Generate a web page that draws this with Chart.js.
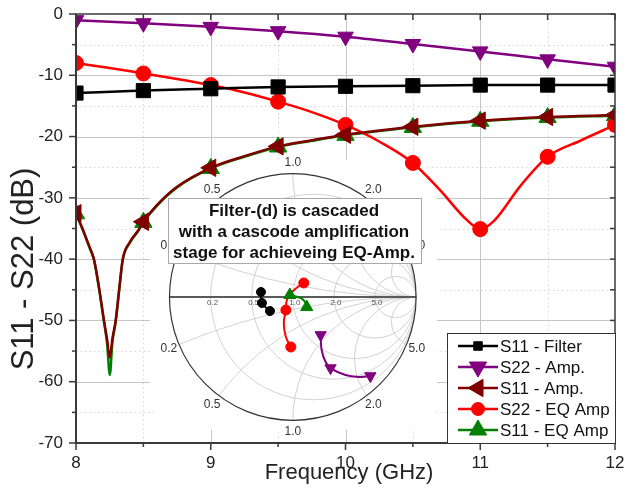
<!DOCTYPE html>
<html><head><meta charset="utf-8">
<script src="https://cdn.jsdelivr.net/npm/chart.js@4.4.0/dist/chart.umd.min.js"></script>
<style>html,body{margin:0;padding:0;background:#fff;}#wrap{width:626px;height:496px;position:relative;}</style>
</head><body><div id="wrap"><canvas id="c" width="626" height="496"></canvas></div>
<script>
// ---------------- data ----------------
const seriesNames = ['S11 - Filter', 'S22 - Amp.', 'S11 - Amp.', 'S22 - EQ Amp', 'S11 - EQ Amp'];
const markerFreq = [8, 8.5, 9, 9.5, 10, 10.5, 11, 11.5, 12];
const s11FilterDb = [-12.9, -12.5, -12.2, -11.9, -11.8, -11.7, -11.6, -11.6, -11.6];
const s22AmpDb = [-1.0, -1.5, -2.1, -2.8, -3.7, -4.9, -6.1, -7.4, -8.6];
const s11AmpFreq = [8, 8.05, 8.1, 8.133, 8.17, 8.207, 8.23, 8.251, 8.27, 8.295, 8.32, 8.347, 8.4, 8.465, 8.5, 8.6, 8.75, 9, 9.25, 9.5, 9.75, 10, 10.5, 11, 11.5, 12];
const s11AmpDb = [-32.5, -35.1, -38.0, -40.0, -44.5, -49.9, -53.0, -56.1, -53.0, -49.9, -45.0, -40.0, -37.2, -35.2, -33.9, -31.2, -28.2, -25.1, -23.2, -21.6, -20.6, -19.7, -18.4, -17.4, -16.8, -16.5];
const s11EqFreq = [8, 8.05, 8.1, 8.133, 8.17, 8.207, 8.23, 8.251, 8.27, 8.295, 8.32, 8.347, 8.4, 8.465, 8.5, 8.6, 8.75, 9, 9.25, 9.5, 9.75, 10, 10.5, 11, 11.5, 12];
const s11EqDb = [-32.6, -35.2, -38.1, -40.1, -44.7, -50.2, -53.6, -58.9, -53.6, -50.2, -45.2, -40.1, -37.3, -35.3, -34.0, -31.3, -28.3, -25.2, -23.3, -21.7, -20.7, -19.8, -18.5, -17.5, -16.9, -16.6];
const s22EqFreq = [8, 8.25, 8.5, 8.75, 9, 9.25, 9.5, 9.75, 10, 10.25, 10.5, 10.7, 10.9, 11, 11.1, 11.3, 11.5, 11.75, 12];
const s22EqDb = [-8.0, -8.8, -9.7, -10.6, -11.6, -12.8, -14.3, -16.0, -18.1, -20.8, -24.3, -28.7, -33.6, -35.1, -33.8, -28.0, -23.3, -20.6, -18.1];
const xTickLabels = ['8', '9', '10', '11', '12'];
const yTickLabels = ['0', '-10', '-20', '-30', '-40', '-50', '-60', '-70'];

// Smith chart inset (reflection coefficient, real / imaginary)
const smithFilterRe = [-0.258, -0.250, -0.185];
const smithFilterIm = [0.040, -0.048, -0.113];
const smithFilterMark = [1, 1, 1];
const smithS22AmpRe = [0.226, 0.234, 0.266, 0.306, 0.427, 0.532, 0.629];
const smithS22AmpIm = [-0.306, -0.427, -0.524, -0.573, -0.629, -0.645, -0.637];
const smithS22AmpMark = [1, 0, 0, 1, 0, 0, 1];
const smithS22EqRe = [0.129, 0.089, -0.008, -0.048, -0.056, -0.073, -0.056, -0.016];
const smithS22EqIm = [0.121, 0.113, 0.040, -0.024, -0.105, -0.210, -0.323, -0.403];
const smithS22EqMark = [0, 1, 0, 0, 1, 0, 0, 1];
const smithS11EqRe = [-0.024, 0.065, 0.100, 0.113];
const smithS11EqIm = [0.016, -0.008, -0.040, -0.081];
const smithS11EqMark = [1, 0, 0, 1];
const smithR = [0.2, 0.5, 1, 2, 5];
const smithX = [0.2, 0.5, 1, 2, 5];
const smithLabels = ['0.2', '0.5', '1.0', '2.0', '5.0'];
const noteLines = ['Filter-(d) is cascaded', 'with a cascode amplification', 'stage for achieveing EQ-Amp.'];

// ---------------- layout constants ----------------
const FONT = "'Liberation Sans', Arial, Helvetica, sans-serif";
const AREA = { l: 76, r: 618, t: 14, b: 443 };
const SM = { cx: 294, cy: 297, R: 124 };

const COLORS = ['#000000', '#800080', '#800000', '#ff0000', '#008000'];
const STYLES = [
  { ps: 'rect', rot: 0, r: 10, lr: 6 },
  { ps: 'triangle', rot: 180, r: 9, lr: 10 },
  { ps: 'triangle', rot: -90, r: 10, lr: 10 },
  { ps: 'circle', rot: 0, r: 7.5, lr: 6.5 },
  { ps: 'triangle', rot: 0, r: 10, lr: 10 }
];

function pts(xs, ys) { return xs.map((x, i) => ({ x: x, y: ys[i] })); }
const isMark = c => { const v = c.raw ? c.raw.x : NaN; return Math.abs(v * 2 - Math.round(v * 2)) < 1e-6; };

function mainSet(i, xs, ys) {
  const st = STYLES[i];
  return {
    label: seriesNames[i], data: pts(xs, ys),
    borderColor: COLORS[i], backgroundColor: COLORS[i], borderWidth: 2.5,
    pointStyle: st.ps, rotation: st.rot,
    pointRadius: c => isMark(c) ? st.r : 0,
    pointBackgroundColor: COLORS[i], pointBorderColor: COLORS[i], pointBorderWidth: 1,
    cubicInterpolationMode: 'monotone', tension: 0.4, xAxisID: 'x', yAxisID: 'y'
  };
}
function smithSet(i, re, im, mark, r, ps) {
  const st = STYLES[i];
  return {
    label: 'smith-' + seriesNames[i], data: pts(re, im),
    borderColor: COLORS[i], backgroundColor: COLORS[i], borderWidth: 2,
    pointStyle: ps || st.ps, rotation: st.rot,
    pointRadius: c => mark[c.dataIndex] ? r : 0,
    pointBackgroundColor: COLORS[i], pointBorderColor: COLORS[i], pointBorderWidth: 1,
    tension: 0.4, xAxisID: 'xs', yAxisID: 'ys'
  };
}

// datasets: first in the list is drawn on top
const datasets = [
  smithSet(0, smithFilterRe, smithFilterIm, smithFilterMark, 4.5, 'circle'),
  smithSet(1, smithS22AmpRe, smithS22AmpIm, smithS22AmpMark, 6.5),
  smithSet(4, smithS11EqRe, smithS11EqIm, smithS11EqMark, 7),
  smithSet(3, smithS22EqRe, smithS22EqIm, smithS22EqMark, 5),
  mainSet(0, markerFreq, s11FilterDb),
  mainSet(1, markerFreq, s22AmpDb),
  mainSet(2, s11AmpFreq, s11AmpDb),
  mainSet(3, s22EqFreq, s22EqDb),
  mainSet(4, s11EqFreq, s11EqDb)
];

function drawMarker(ctx, style, color, radius, x, y) {
  ctx.fillStyle = color; ctx.strokeStyle = color; ctx.lineWidth = 1;
  if (Chart.helpers && Chart.helpers.drawPoint) {
    Chart.helpers.drawPoint(ctx, { pointStyle: style.ps, rotation: style.rot, radius: radius, borderWidth: 1 }, x, y);
  }
}

const decor = {
  id: 'decor',
  beforeDatasetsDraw(chart) {
    const { ctx, chartArea: a, scales } = chart;
    const x = scales.x, y = scales.y, xs = scales.xs, ys = scales.ys;
    ctx.save();
    // grid
    x.ticks.forEach(t => {
      const v = t.value; if (v <= 8 || v >= 12) return;
      const px = Math.round(x.getPixelForValue(v)) + 0.5;
      const major = Math.abs(v - Math.round(v)) < 1e-6;
      ctx.beginPath(); ctx.lineWidth = 1;
      ctx.strokeStyle = major ? '#c6c6c6' : '#d6d6d6';
      ctx.setLineDash(major ? [] : [1.5, 3]);
      ctx.moveTo(px, a.top); ctx.lineTo(px, a.bottom); ctx.stroke();
    });
    y.ticks.forEach(t => {
      const v = t.value; if (v <= -70 || v >= 0) return;
      const py = Math.round(y.getPixelForValue(v)) + 0.5;
      const major = Math.abs(v % 10) < 1e-6;
      ctx.beginPath(); ctx.lineWidth = 1;
      ctx.strokeStyle = major ? '#c6c6c6' : '#d6d6d6';
      ctx.setLineDash(major ? [] : [1.5, 3]);
      ctx.moveTo(a.left, py); ctx.lineTo(a.right, py); ctx.stroke();
    });
    ctx.setLineDash([]);
    // inset white background
    ctx.fillStyle = '#fff';
    ctx.beginPath();
    if (ctx.roundRect) ctx.roundRect(150, 160, 287, 270, 32); else ctx.rect(150, 160, 287, 270);
    ctx.fill();
    // Smith chart grid
    const cx = xs.getPixelForValue(0), cy = ys.getPixelForValue(0), R = xs.getPixelForValue(1) - cx;
    ctx.save();
    ctx.beginPath(); ctx.arc(cx, cy, R, 0, 2 * Math.PI); ctx.clip();
    ctx.strokeStyle = '#cdcdcd'; ctx.lineWidth = 0.9;
    smithR.forEach(r => {
      ctx.beginPath(); ctx.arc(cx + R * r / (1 + r), cy, R / (1 + r), 0, 2 * Math.PI); ctx.stroke();
    });
    smithX.forEach(xv => [1, -1].forEach(s => {
      ctx.beginPath(); ctx.arc(cx + R, cy - s * R / xv, R / xv, 0, 2 * Math.PI); ctx.stroke();
    }));
    ctx.restore();
    ctx.strokeStyle = '#5a5a5a'; ctx.lineWidth = 1.8;
    ctx.beginPath(); ctx.moveTo(cx - R, cy); ctx.lineTo(cx + R, cy); ctx.stroke();
    ctx.strokeStyle = '#333'; ctx.lineWidth = 1.2;
    ctx.beginPath(); ctx.arc(cx, cy, R, 0, 2 * Math.PI); ctx.stroke();
    // Smith labels
    ctx.fillStyle = '#333'; ctx.font = '12px ' + FONT; ctx.textAlign = 'center'; ctx.textBaseline = 'middle';
    smithX.forEach((xv, i) => {
      const gr = (xv * xv - 1) / (xv * xv + 1), gi = 2 * xv / (xv * xv + 1);
      [1, -1].forEach(s => {
        ctx.fillText(smithLabels[i], cx + gr * (R + 11), cy - s * gi * (R + 11));
      });
    });
    ctx.fillStyle = '#555'; ctx.font = '8px ' + FONT;
    smithR.forEach((r, i) => {
      ctx.fillText(smithLabels[i], cx + R * (r - 1) / (r + 1) + 2, cy + 6);
    });
    // note box
    ctx.fillStyle = '#fff'; ctx.fillRect(168, 198, 254, 66);
    ctx.strokeStyle = '#a8a8a8'; ctx.lineWidth = 1; ctx.strokeRect(168.5, 198.5, 253, 65);
    ctx.fillStyle = '#111'; ctx.font = 'bold 17px ' + FONT; ctx.textBaseline = 'alphabetic';
    noteLines.forEach((l, i) => ctx.fillText(l, 294, 216 + i * 21));
    ctx.restore();
  },
  afterDatasetsDraw(chart) {
    const { ctx, chartArea: a, scales } = chart;
    const x = scales.x, y = scales.y;
    ctx.save();
    // frame
    ctx.strokeStyle = '#3a3a3a'; ctx.lineWidth = 1.5;
    ctx.strokeRect(a.left, a.top, a.right - a.left, a.bottom - a.top);
    ctx.lineWidth = 2;
    ctx.beginPath(); ctx.moveTo(a.left, a.top); ctx.lineTo(a.left, a.bottom); ctx.lineTo(a.right, a.bottom); ctx.stroke();
    ctx.lineWidth = 1.5;
    x.ticks.forEach(t => {
      const v = t.value, px = x.getPixelForValue(v);
      const major = Math.abs(v - Math.round(v)) < 1e-6;
      ctx.beginPath(); ctx.moveTo(px, a.bottom); ctx.lineTo(px, a.bottom + (major ? 7 : 4)); ctx.stroke();
      ctx.beginPath(); ctx.moveTo(px, a.top); ctx.lineTo(px, a.top + 6); ctx.stroke();
    });
    y.ticks.forEach(t => {
      const v = t.value, py = y.getPixelForValue(v);
      const major = Math.abs(v % 10) < 1e-6;
      ctx.beginPath(); ctx.moveTo(a.left, py); ctx.lineTo(a.left - (major ? 7 : 4), py); ctx.stroke();
      ctx.beginPath(); ctx.moveTo(a.right, py); ctx.lineTo(a.right - 5, py); ctx.stroke();
    });
    // legend
    const lx = 447, ly = 333, lw = a.right - lx, lh = a.bottom - ly;
    ctx.fillStyle = '#fff'; ctx.fillRect(lx, ly, lw, lh);
    ctx.strokeStyle = '#333'; ctx.lineWidth = 1; ctx.strokeRect(lx + 0.5, ly + 0.5, lw, lh);
    ctx.font = '17px ' + FONT; ctx.textAlign = 'left'; ctx.textBaseline = 'middle';
    seriesNames.forEach((n, i) => {
      const yy = 346 + i * 21;
      ctx.strokeStyle = COLORS[i]; ctx.lineWidth = 2.5;
      ctx.beginPath(); ctx.moveTo(458, yy); ctx.lineTo(498, yy); ctx.stroke();
      drawMarker(ctx, STYLES[i], COLORS[i], STYLES[i].lr, 478, yy);
      ctx.fillStyle = '#111'; ctx.fillText(n, 500, yy + 1);
    });
    // axis titles
    ctx.fillStyle = '#222'; ctx.textAlign = 'center'; ctx.textBaseline = 'alphabetic';
    ctx.font = '22px ' + FONT;
    ctx.fillText('Frequency (GHz)', 349, 479);
    ctx.save(); ctx.translate(33, 269); ctx.rotate(-Math.PI / 2);
    ctx.font = '31px ' + FONT; ctx.fillText('S11 - S22 (dB)', 0, 0);
    ctx.restore();
    ctx.restore();
  }
};

new Chart(document.getElementById('c'), {
  type: 'line',
  data: { datasets: datasets },
  options: {
    responsive: false, animation: false, devicePixelRatio: 1, events: [],
    layout: { padding: { left: 0, right: 626 - AREA.r, top: AREA.t, bottom: 0 } },
    plugins: { legend: { display: false }, tooltip: { enabled: false } },
    scales: {
      x: {
        type: 'linear', position: 'bottom', min: 8, max: 12,
        grid: { display: false, drawTicks: false }, border: { display: false },
        ticks: {
          stepSize: 0.5, autoSkip: false, maxRotation: 0, padding: 10, color: '#222',
          font: { family: FONT, size: 17 },
          callback: v => xTickLabels.includes(String(v)) ? String(v) : ''
        },
        afterFit: s => { s.height = 496 - AREA.b; s.paddingLeft = 0; s.paddingRight = 0; }
      },
      y: {
        type: 'linear', position: 'left', min: -70, max: 0,
        grid: { display: false, drawTicks: false }, border: { display: false },
        ticks: {
          stepSize: 5, autoSkip: false, padding: 13, color: '#222',
          font: { family: FONT, size: 17 },
          callback: v => yTickLabels.includes(String(v)) ? String(v) : ''
        },
        afterFit: s => { s.width = AREA.l; s.paddingTop = 0; s.paddingBottom = 0; }
      },
      xs: {
        type: 'linear', axis: 'x', position: 'bottom', display: false,
        min: -(SM.cx - AREA.l) / SM.R, max: (AREA.r - SM.cx) / SM.R
      },
      ys: {
        type: 'linear', axis: 'y', position: 'left', display: false,
        min: -(AREA.b - SM.cy) / SM.R, max: (SM.cy - AREA.t) / SM.R
      }
    }
  },
  plugins: [decor]
});
</script>
</body></html>
